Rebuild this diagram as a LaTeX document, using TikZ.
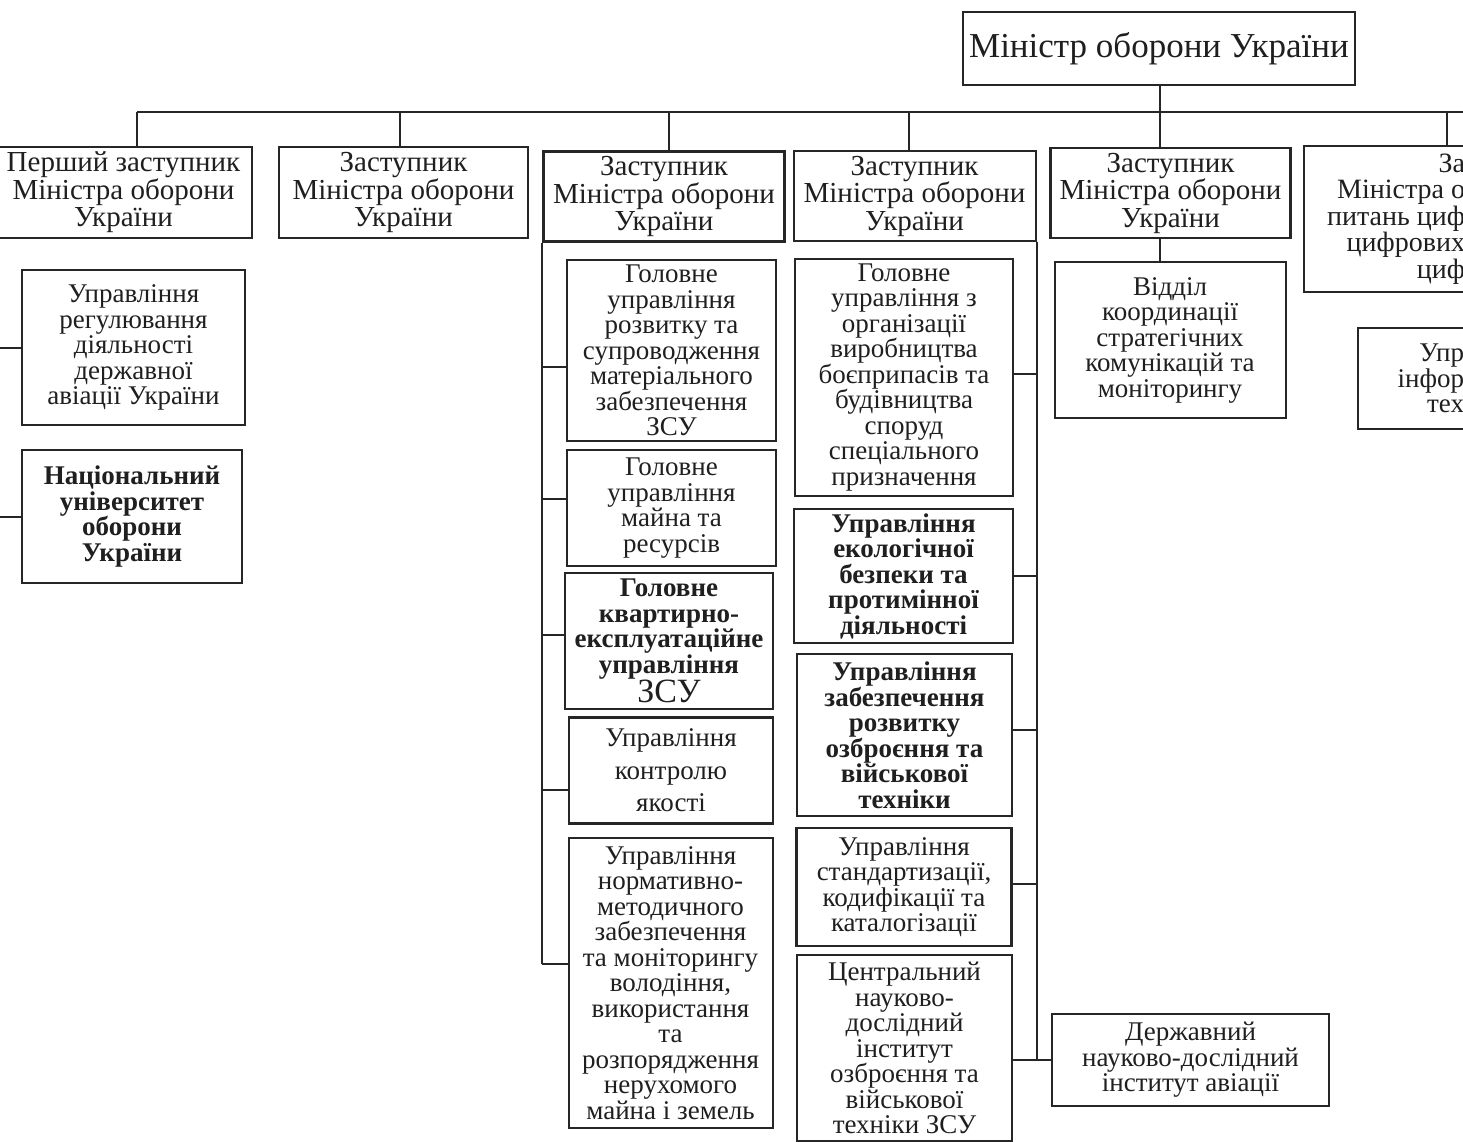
\documentclass[tikz,border=0pt]{standalone}
\usepackage{fontspec}
\setmainfont{Liberation Serif}
\begin{document}
\begin{tikzpicture}[x=1pt,y=-1pt,
  bx/.style={draw=black!85, line width=2pt, inner sep=0pt, align=center, text=black!88,
    font=\fontsize{27}{25.5}\selectfont},
  hd/.style={bx, font=\fontsize{29}{27.5}\selectfont},
  bold/.style={font=\fontsize{27}{25.5}\selectfont\bfseries},
  ln/.style={draw=black!85, line width=2pt}]
\path[use as bounding box] (0,0) rectangle (1463,1142);
\fill[white] (0,0) rectangle (1463,1142);
\clip (0,0) rectangle (1463,1142);

% top
\node[bx, font=\fontsize{35}{40}\selectfont, minimum width=392pt, minimum height=73pt] (min) at (1159,48.5) {Міністр оборони України};

% deputies
\node[hd, minimum width=257pt, minimum height=91pt] (d1) at (123.5,192.5) {Перший заступник\\Міністра оборони\\України};
\node[hd, minimum width=249pt, minimum height=91pt] (d2) at (403.5,192.5) {Заступник\\Міністра оборони\\України};
\node[hd, line width=2.5pt, minimum width=241pt, minimum height=90pt] (d3) at (664,196.5) {Заступник\\Міністра оборони\\України};
\node[hd, minimum width=242pt, minimum height=89pt] (d4) at (914.5,196) {Заступник\\Міністра оборони\\України};
\node[hd, line width=2.4pt, minimum width=240pt, minimum height=90pt] (d5) at (1170.5,193) {Заступник\\Міністра оборони\\України};
\node[hd, font=\fontsize{28}{26.5}\selectfont, anchor=north west, text width=144pt, inner xsep=17pt, align=flush right, minimum height=146pt] (d6) at (1303,145) {За\\Міністра о\\питань циф\\цифрових\hspace*{40pt}\\циф};

% sub-units
\node[bx, minimum width=231pt, minimum height=156pt] (vid) at (1170,340) {Відділ\\координації\\стратегічних\\комунікацій та\\моніторингу};
\node[bx, anchor=north west, text width=89pt, inner xsep=17pt, align=flush right, minimum height=101pt] (u6) at (1357,327) {Упр\\інфор\\тех};

\node[bx, minimum width=223pt, minimum height=155pt] (l1) at (133.5,347.5) {Управління\\регулювання\\діяльності\\державної\\авіації України};
\node[bx, bold, line width=2.4pt, minimum width=220pt, minimum height=133pt] (l2) at (132,516.5) {Національний\\університет\\оборони\\України};

\node[bx, minimum width=209pt, minimum height=181pt] (c1) at (671.5,350.5) {Головне\\управління\\розвитку та\\супроводження\\матеріального\\забезпечення\\ЗСУ};
\node[bx, minimum width=209pt, minimum height=116pt] (c2) at (671.5,508) {Головне\\управління\\майна та\\ресурсів};
\node[bx, bold, line width=2.6pt, minimum width=208pt, minimum height=136pt] (c3) at (669,641) {Головне\\квартирно-\\експлуатаційне\\управління\\{\fontsize{34}{30}\selectfont\mdseries ЗСУ}};
\node[bx, line width=2.4pt, minimum width=204pt, minimum height=106pt] (c4) at (671,770.5) {Управління\\[7pt]контролю\\[7pt]якості};
\node[bx, minimum width=204pt, minimum height=290pt] (c5) at (670.5,983) {Управління\\нормативно-\\методичного\\забезпечення\\та моніторингу\\володіння,\\використання\\та\\розпорядження\\нерухомого\\майна і земель};

\node[bx, line width=2.4pt, minimum width=218pt, minimum height=237pt] (e1) at (904,377.5) {Головне\\управління з\\організації\\виробництва\\боєприпасів та\\будівництва\\споруд\\спеціального\\призначення};
\node[bx, bold, line width=2.4pt, minimum width=219pt, minimum height=134pt] (e2) at (903.5,576) {Управління\\екологічної\\безпеки та\\протимінної\\діяльності};
\node[bx, bold, minimum width=215pt, minimum height=162pt] (e3) at (904.5,735) {Управління\\забезпечення\\розвитку\\озброєння та\\військової\\техніки};
\node[bx, line width=2.4pt, minimum width=215pt, minimum height=118pt] (e4) at (904,887) {Управління\\стандартизації,\\кодифікації та\\каталогізації};
\node[bx, minimum width=215pt, minimum height=186pt] (e5) at (904.5,1048) {Центральний\\науково-\\дослідний\\інститут\\озброєння та\\військової\\техніки ЗСУ};
\node[bx, minimum width=277pt, minimum height=92pt] (der) at (1190.5,1060) {Державний\\науково-дослідний\\інститут авіації};

% bus
\coordinate (b1) at (137,112);
\coordinate (b2) at (400,112);
\coordinate (b3) at (669,112);
\coordinate (b4) at (909,112);
\coordinate (b5) at (1160,112);
\coordinate (b6) at (1447,112);
\coordinate (bR) at (1470,112);
\draw[ln] (b1) -- (bR);
\draw[ln] (min.south -| b5) -- (b5);
\foreach \i in {1,...,6} \draw[ln] (b\i) -- (b\i |- d\i.north);
\draw[ln] (b5 |- d5.south) -- (b5 |- vid.north);

% left column
\draw[ln] (d1.south west) -- (d1.south west |- l2.west);
\draw[ln] (l1.west) -- (l1.west -| d1.west);
\draw[ln] (l2.west) -- (l2.west -| d1.west);

% column 3
\coordinate (s1) at ([yshift=-16pt]c1.west);
\coordinate (s2) at ([yshift=9pt]c2.west);
\coordinate (s3) at ([yshift=6pt]c3.west);
\coordinate (s4) at ([yshift=-19pt]c4.west);
\coordinate (s5) at ([yshift=19pt]c5.west);
\draw[ln] (d3.south west) -- (d3.south west |- s5);
\foreach \s in {s1,s2,s3,s4,s5} \draw[ln] (\s) -- (\s -| d3.west);

% column 4
\coordinate (t1) at ([yshift=4pt]e1.east);
\coordinate (t2) at (e2.east);
\coordinate (t3) at ([yshift=5pt]e3.east);
\coordinate (t4) at ([yshift=3pt]e4.east);
\coordinate (t5) at (e5.east |- der.west);
\draw[ln] (d4.south east) -- (d4.south east |- t5);
\foreach \t in {t1,t2,t3,t4} \draw[ln] (\t) -- (\t -| d4.east);
\draw[ln] (t5) -- (der.west);
\end{tikzpicture}
\end{document}
